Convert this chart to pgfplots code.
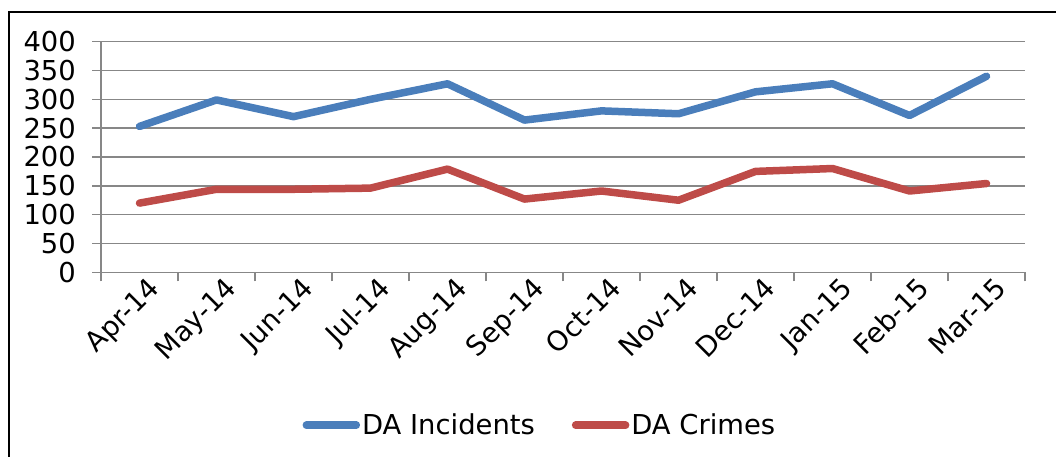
\documentclass[border=0pt]{standalone}
\usepackage{pgfplots}
\pgfplotsset{compat=1.18}
\usepackage{fontspec}
\setmainfont{DejaVu Sans}
\definecolor{blueL}{HTML}{4A7EBB}
\definecolor{redL}{HTML}{BE4B48}
\definecolor{gridc}{HTML}{878787}
\pgfplotstableread{
x inc cri
0 253 120
1 299 144
2 270 144
3 300 146
4 327 179
5 264 127
6 280 141
7 275 125
8 313 175
9 327 180
10 272 141
11 340 154
}\datatab
\begin{document}
\begin{tikzpicture}[x=1bp,y=1bp]
\useasboundingbox (0,0) rectangle (1056,457);
\draw[line width=2bp] (8.7,0) -- (8.7,444.7) -- (1056,444.7);
\begin{axis}[
  at={(101bp,184.7bp)}, anchor=south west,
  scale only axis, width=924bp, height=230.6bp,
  xmin=-0.5, xmax=11.5, ymin=0, ymax=400,
  ytick={0,50,...,400},
  xtick={0,...,11},
  xticklabels={Apr-14,May-14,Jun-14,Jul-14,Aug-14,Sep-14,Oct-14,Nov-14,Dec-14,Jan-15,Feb-15,Mar-15},
  minor xtick={-0.5,0.5,...,11.5},
  major x tick style={draw=none},
  tick align=outside, major tick length=9bp, minor tick length=9bp,
  axis x line*=bottom, axis y line*=left,
  axis line style={-, gridc, line width=1.5bp},
  ymajorgrids, grid style={gridc, line width=1.5bp},
  tick style={gridc, line width=1.5bp},
  /pgf/number format/assume math mode=true,
  ticklabel style={font=\fontsize{27.5}{31}\selectfont, text=black},
  yticklabel style={anchor=east, inner sep=0pt, xshift=-16bp},
  xticklabel style={rotate=45, anchor=north east, inner sep=0pt, xshift=9bp, yshift=-1bp},
  legend style={at={(0.475,-0.663)}, anchor=center, draw=none, fill=none,
    font=\fontsize{27.5}{31}\selectfont, legend columns=2,
    /tikz/every even column/.append style={column sep=35bp}},
  legend image code/.code={\draw[#1, line cap=round] (0bp,0bp) -- (50bp,0bp);},
  clip=false,
]
\addplot[blueL, line width=7.5bp, line join=round, line cap=round] table[x=x,y=inc] {\datatab};
\addlegendentry{DA Incidents}
\addplot[redL, line width=7.5bp, line join=round, line cap=round] table[x=x,y=cri] {\datatab};
\addlegendentry{DA Crimes}
\end{axis}
\end{tikzpicture}
\end{document}
